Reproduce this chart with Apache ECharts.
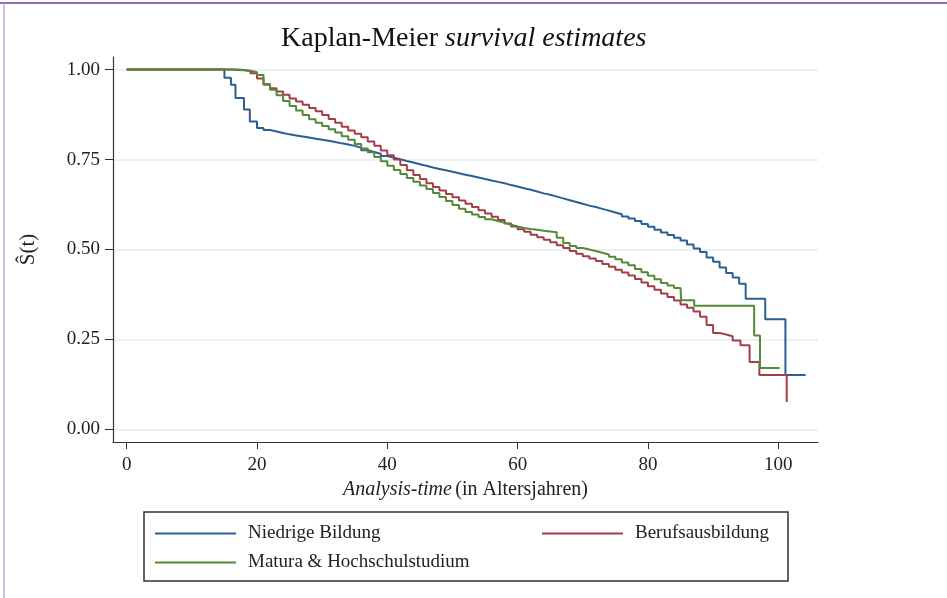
<!DOCTYPE html>
<html>
<head>
<meta charset="utf-8">
<script src="https://cdn.jsdelivr.net/npm/echarts@6/dist/echarts.min.js"></script>
<style>
  html, body { margin: 0; padding: 0; background: #fff; }
  #chart { width: 947px; height: 598px; }
</style>
</head>
<body>
<div id="chart"></div>
<script>
// Kaplan-Meier Kurven: Zeitpunkte (Alter) und geschaetzte Ueberlebensrate
const seriesNames = ["Niedrige Bildung", "Berufsausbildung", "Matura & Hochschulstudium"];

const tNiedrig = [0, 15, 16, 16.7, 18, 18.9, 20, 21, 22, 23, 24, 25, 26, 27, 28, 29, 30, 31, 32, 33, 34, 35,
  36, 37, 38, 39, 40, 41, 42, 43, 44, 45, 46, 47, 48, 49, 50, 51, 52, 53, 54, 55, 56, 57, 58, 59, 60,
  61, 62, 63, 64, 65, 66, 67, 68, 69, 70, 71, 72, 73, 74, 75, 76, 77, 78, 79, 80, 81, 82, 83, 84, 85,
  86, 87, 88, 89, 90, 91, 92, 93, 94, 95, 98, 101.1, 104.2];
const sNiedrig = [1, 0.977, 0.958, 0.921, 0.889, 0.856, 0.838, 0.832, 0.828, 0.824, 0.820, 0.817, 0.814,
  0.811, 0.808, 0.805, 0.802, 0.799, 0.795, 0.792, 0.788, 0.783, 0.776, 0.771, 0.766, 0.760, 0.755,
  0.751, 0.746, 0.742, 0.737, 0.733, 0.728, 0.724, 0.720, 0.716, 0.712, 0.708, 0.704, 0.700, 0.696,
  0.692, 0.688, 0.684, 0.679, 0.675, 0.670, 0.666, 0.661, 0.656, 0.652, 0.647, 0.642, 0.637, 0.632,
  0.627, 0.622, 0.618, 0.613, 0.608, 0.603, 0.598, 0.592, 0.586, 0.579, 0.571, 0.563, 0.555, 0.547,
  0.540, 0.533, 0.525, 0.514, 0.503, 0.493, 0.478, 0.466, 0.450, 0.435, 0.422, 0.405, 0.363, 0.306,
  0.151, 0.151];

const tBeruf = [0, 17, 18, 19, 20, 21, 22, 23, 24, 25, 26, 27, 28, 29, 30, 31, 32, 33, 34, 35, 36, 37,
  38, 39, 40, 41, 42, 43, 44, 45, 46, 47, 48, 49, 50, 51, 52, 53, 54, 55, 56, 57, 58, 59, 60, 61, 62,
  63, 64, 65, 66, 67, 68, 69, 70, 71, 72, 73, 74, 75, 76, 77, 78, 79, 80, 81, 82, 83, 84, 85, 86, 87,
  88, 89, 90, 91, 92, 93, 94.2, 95.6, 97.1, 101.3];
const sBeruf = [1, 0.999, 0.996, 0.990, 0.975, 0.958, 0.948, 0.939, 0.930, 0.920, 0.911, 0.902, 0.893,
  0.884, 0.874, 0.863, 0.852, 0.841, 0.831, 0.822, 0.812, 0.800, 0.788, 0.775, 0.762, 0.750, 0.735,
  0.720, 0.707, 0.696, 0.684, 0.674, 0.664, 0.654, 0.645, 0.636, 0.627, 0.618, 0.609, 0.600, 0.591,
  0.582, 0.572, 0.564, 0.556, 0.549, 0.541, 0.534, 0.527, 0.520, 0.512, 0.504, 0.496, 0.488, 0.481,
  0.475, 0.468, 0.460, 0.452, 0.444, 0.436, 0.428, 0.418, 0.408, 0.398, 0.388, 0.378, 0.368, 0.358,
  0.347, 0.338, 0.328, 0.313, 0.290, 0.268, 0.264, 0.259, 0.247, 0.234, 0.187, 0.151, 0.076];

const tMatura = [0, 16, 17, 18, 19, 20, 21, 22, 23, 24, 25, 26, 27, 28, 29, 30, 31, 32, 33, 34, 35, 36,
  37, 38, 39, 40, 41, 42, 43, 44, 45, 46, 47, 48, 49, 50, 51, 52, 53, 54, 55, 56, 57, 58, 59, 60, 61,
  62, 63, 64, 65, 66, 67, 68, 69, 70, 71, 72, 73, 74, 75, 76, 77, 78, 79, 80, 81, 82, 83, 84, 85,
  85.1, 87.1, 96.3, 97.2, 100.2];
const sMatura = [1, 0.999, 0.998, 0.997, 0.993, 0.985, 0.960, 0.944, 0.929, 0.913, 0.899, 0.886, 0.874,
  0.862, 0.852, 0.843, 0.834, 0.825, 0.815, 0.805, 0.793, 0.781, 0.770, 0.757, 0.745, 0.733, 0.721,
  0.710, 0.699, 0.688, 0.678, 0.668, 0.657, 0.646, 0.635, 0.624, 0.613, 0.604, 0.597, 0.590, 0.584,
  0.579, 0.574, 0.569, 0.564, 0.560, 0.557, 0.555, 0.552, 0.550, 0.548, 0.533, 0.518, 0.510, 0.504,
  0.500, 0.496, 0.491, 0.486, 0.480, 0.473, 0.464, 0.456, 0.446, 0.437, 0.427, 0.417, 0.407, 0.400,
  0.393, 0.389, 0.359, 0.344, 0.261, 0.171, 0.171];

const xTicks = [0, 20, 40, 60, 80, 100];
const yTicks = [0, 0.25, 0.5, 0.75, 1];

const colors = ["#2b5f91", "#a63c48", "#538a37"];
const serif = "'Liberation Serif', 'DejaVu Serif', serif";

function pairs(t, s) {
  return t.map((v, i) => [v, s[i]]);
}

const chart = echarts.init(document.getElementById("chart"));

// eine Legende pro Eintrag, damit die Anordnung wie im Original ist
function legendAt(name, left, top) {
  return {
    data: [name],
    left: left,
    top: top,
    padding: 0,
    icon: "rect",
    itemWidth: 81,
    itemHeight: 2,
    selectedMode: false,
    textStyle: { fontFamily: serif, fontSize: 19, color: "#222", padding: [0, 0, 0, 7] }
  };
}

chart.setOption({
  backgroundColor: "#fff",
  animation: false,
  title: {
    text: "{a|Kaplan-Meier }{b|survival estimates}",
    left: 276,
    top: 20,
    textStyle: {
      rich: {
        a: { fontFamily: serif, fontSize: 28, fontWeight: "normal", color: "#111" },
        b: { fontFamily: serif, fontSize: 28, fontWeight: "normal", color: "#111", fontStyle: "italic" }
      }
    }
  },
  grid: { left: 113, right: 129, top: 57, bottom: 156 },
  legend: [
    legendAt(seriesNames[0], 155, 524),
    legendAt(seriesNames[1], 542, 524),
    legendAt(seriesNames[2], 155, 553)
  ],
  xAxis: {
    type: "value",
    min: -2.1,
    max: 106.1,
    name: "{i|Analysis-time} {n|(in Altersjahren)}",
    nameLocation: "middle",
    nameGap: 37,
    nameTextStyle: {
      rich: {
        i: { fontFamily: serif, fontSize: 20, color: "#222", fontStyle: "italic" },
        n: { fontFamily: serif, fontSize: 20, color: "#222" }
      }
    },
    axisLine: { onZero: false, lineStyle: { color: "#333", width: 1.2 } },
    axisTick: { customValues: xTicks, length: 7, lineStyle: { color: "#333" } },
    axisLabel: { customValues: xTicks, margin: 14, fontFamily: serif, fontSize: 19, color: "#222" },
    splitLine: { show: false }
  },
  yAxis: {
    type: "value",
    min: -0.035,
    max: 1.035,
    name: "Ŝ(t)",
    nameLocation: "middle",
    nameRotate: 90,
    nameGap: 74,
    nameTextStyle: { fontFamily: serif, fontSize: 21, color: "#222" },
    axisLine: { show: true, onZero: false, lineStyle: { color: "#333", width: 1.2 } },
    axisTick: { show: true, customValues: yTicks, length: 8, lineStyle: { color: "#333" } },
    axisLabel: {
      customValues: yTicks,
      margin: 13,
      fontFamily: serif,
      fontSize: 19,
      color: "#222",
      formatter: v => v.toFixed(2)
    },
    splitLine: { show: true, lineStyle: { color: "#e2edf1", width: 1.5 } }
  },
  series: [
    { name: seriesNames[0], type: "line", step: "end", showSymbol: false, color: colors[0],
      lineStyle: { width: 2, color: colors[0] }, data: pairs(tNiedrig, sNiedrig) },
    { name: seriesNames[1], type: "line", step: "end", showSymbol: false, color: colors[1],
      lineStyle: { width: 2, color: colors[1] }, data: pairs(tBeruf, sBeruf) },
    { name: seriesNames[2], type: "line", step: "end", showSymbol: false, color: colors[2],
      lineStyle: { width: 2, color: colors[2] }, data: pairs(tMatura, sMatura) }
  ],
  graphic: [
    // Rahmen oben und links
    { type: "line", shape: { x1: 0, y1: 3, x2: 947, y2: 3 }, style: { stroke: "#8c6dbd", lineWidth: 2 } },
    { type: "line", shape: { x1: 4, y1: 3, x2: 4, y2: 598 }, style: { stroke: "#bca7dc", lineWidth: 1.5 } },
    // Kasten um die Legende
    { type: "rect", shape: { x: 144, y: 512, width: 644, height: 69 },
      style: { fill: null, stroke: "#333", lineWidth: 1.5 }, z: 10 }
  ]
});
</script>
</body>
</html>
